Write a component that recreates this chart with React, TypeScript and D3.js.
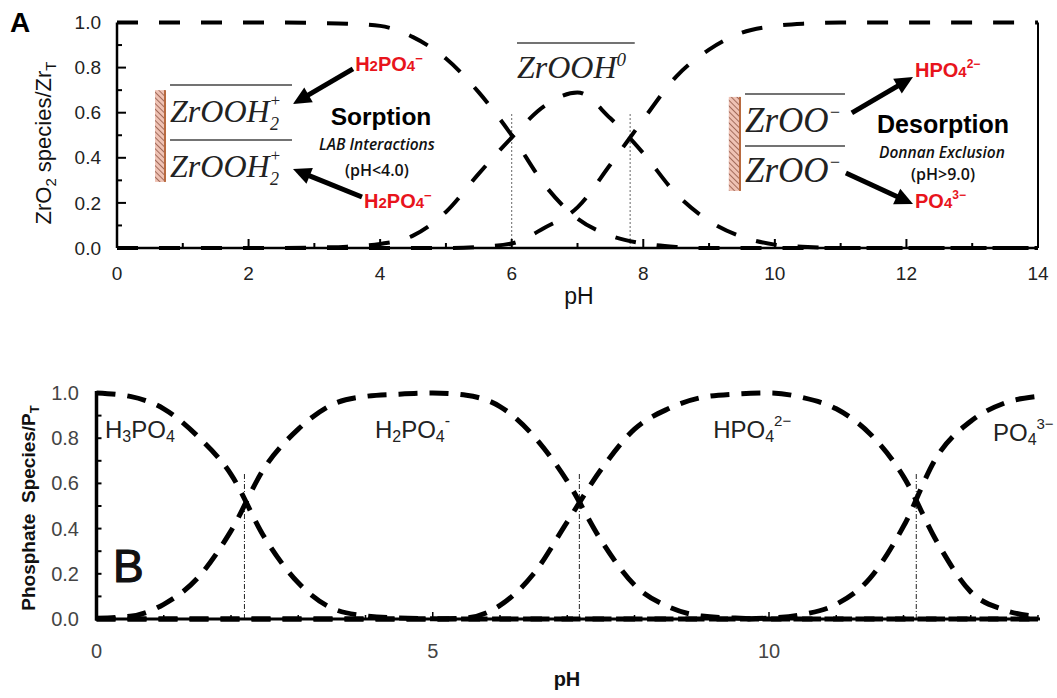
import React from "react";
import * as d3 from "d3";

// pH grid shared by every curve
const PH = [0, 0.5, 1, 1.5, 2, 2.5, 3, 3.5, 4, 4.5, 5, 5.5, 6, 6.5, 7, 7.5, 8, 8.5, 9, 9.5, 10, 10.5, 11, 11.5, 12, 12.5, 13, 13.5, 14];

// Panel A – ZrO2 surface species / Zr_T
const zrOOH2 = [1, 1, 1, 1, 1, 1, 0.998, 0.995, 0.985, 0.935, 0.84, 0.69, 0.5, 0.28, 0.13, 0.055, 0.02, 0.005, 0, 0, 0, 0, 0, 0, 0, 0, 0, 0, 0];
const zrOOH0 = [0, 0, 0, 0, 0, 0, 0.002, 0.006, 0.018, 0.055, 0.16, 0.33, 0.49, 0.63, 0.69, 0.575, 0.42, 0.24, 0.12, 0.05, 0.015, 0.004, 0, 0, 0, 0, 0, 0, 0];
const zrOO = [0, 0, 0, 0, 0, 0, 0, 0, 0, 0, 0, 0.005, 0.02, 0.09, 0.18, 0.37, 0.57, 0.76, 0.88, 0.955, 0.985, 0.996, 1, 1, 1, 1, 1, 1, 1];

// Panel B – phosphate species / P_T
const h3po4 = [1, 0.985, 0.93, 0.81, 0.64, 0.36, 0.16, 0.048, 0.014, 0.004, 0.001, 0, 0, 0, 0, 0, 0, 0, 0, 0, 0, 0, 0, 0, 0, 0, 0, 0, 0];
const h2po4 = [0.003, 0.012, 0.065, 0.18, 0.39, 0.67, 0.84, 0.948, 0.985, 0.995, 1, 0.99, 0.94, 0.81, 0.61, 0.35, 0.15, 0.055, 0.013, 0.004, 0, 0, 0, 0, 0, 0, 0, 0, 0];
const hpo4 = [0, 0, 0, 0, 0, 0, 0, 0, 0, 0, 0, 0.005, 0.06, 0.2, 0.43, 0.66, 0.84, 0.93, 0.98, 0.995, 1, 0.98, 0.93, 0.82, 0.63, 0.34, 0.12, 0.04, 0.01];
const po4 = [0, 0, 0, 0, 0, 0, 0, 0, 0, 0, 0, 0, 0, 0, 0, 0, 0, 0, 0, 0, 0.004, 0.02, 0.065, 0.18, 0.41, 0.72, 0.875, 0.955, 0.985];

const xTicksA = [0, 2, 4, 6, 8, 10, 12, 14];
const xMinorA = [0, 1, 2, 3, 4, 5, 6, 7, 8, 9, 10, 11, 12, 13, 14];
const yTicksA = [0, 0.2, 0.4, 0.6, 0.8, 1];
const yMinorA = [0, 0.1, 0.2, 0.3, 0.4, 0.5, 0.6, 0.7, 0.8, 0.9, 1];
const xTicksB = [0, 5, 10];
const yTicksB = [0, 0.2, 0.4, 0.6, 0.8, 1];

// pKa markers (vertical guide lines)
const crossA = [6, 7.8];
const crossB = [2.2, 7.18, 12.19];

const SANS = "'Liberation Sans', Arial, Helvetica, sans-serif";
const SERIF = "'Liberation Serif', 'Times New Roman', serif";
const NOTE = "'Open Sans', 'Liberation Sans', sans-serif";
const RED = "#e8141c";

function Arrow({ x1, y1, x2, y2 }: { x1: number; y1: number; x2: number; y2: number }) {
  const a = Math.atan2(y2 - y1, x2 - x1);
  const hl = 18, hw = 8.5;
  const bx = x2 - hl * Math.cos(a), by = y2 - hl * Math.sin(a);
  const px = -Math.sin(a) * hw, py = Math.cos(a) * hw;
  return (
    <g>
      <line x1={x1} y1={y1} x2={bx + Math.cos(a) * 2} y2={by + Math.sin(a) * 2} stroke="#000" strokeWidth={5} />
      <polygon points={`${x2},${y2} ${bx + px},${by + py} ${bx - px},${by - py}`} fill="#000" />
    </g>
  );
}

function Bar({ x0, x1, y0, y1 }: { x0: number; x1: number; y0: number; y1: number }) {
  return (
    <g>
      <rect x={x0} y={y1} width={x1 - x0} height={y0 - y1} fill="url(#hatch)" />
      <line x1={x1} x2={x1} y1={y1} y2={y0} stroke="#b86a40" strokeWidth={2} />
    </g>
  );
}

export default function App() {
  const xA = d3.scaleLinear().domain([0, 14]).range([117, 1038]);
  const yA = d3.scaleLinear().domain([0, 1]).range([248, 22.5]);
  const xB = d3.scaleLinear().domain([0, 14]).range([96.5, 1038]);
  const yB = d3.scaleLinear().domain([0, 1]).range([619, 393]);

  const lineA = d3
    .line<number>()
    .x((_, i) => xA(PH[i]))
    .y((d) => yA(d))
    .curve(d3.curveMonotoneX);
  const lineB = d3
    .line<number>()
    .x((_, i) => xB(PH[i]))
    .y((d) => yB(d))
    .curve(d3.curveMonotoneX);

  const seriesA = [zrOOH2, zrOOH0, zrOO];
  const seriesB = [h3po4, h2po4, hpo4, po4];

  return (
    <svg
      width={1057}
      height={698}
      style={{ position: "absolute", left: 0, top: 0, background: "#fff" }}
      fontFamily={SANS}
    >
      <defs>
        <pattern id="hatch" patternUnits="userSpaceOnUse" width={4} height={4} patternTransform="rotate(-45)">
          <rect width={4} height={4} fill="#efc2b4" />
          <line x1={0} y1={0} x2={0} y2={4} stroke="#8e5444" strokeWidth={1.6} />
        </pattern>
      </defs>
      <rect width={1057} height={698} fill="#fff" />

      {/* ---------------- Panel A ---------------- */}
      <text x={10} y={32} fontSize={28} fontWeight="bold">A</text>

      {crossA.map((p) => (
        <line key={p} x1={xA(p)} x2={xA(p)} y1={yA(0)} y2={yA(0.6)} stroke="#666" strokeWidth={1} strokeDasharray="2,2" />
      ))}

      {seriesA.map((s, i) => (
        <path key={i} d={lineA(s) || ""} fill="none" stroke="#000" strokeWidth={4} strokeDasharray="21,21" />
      ))}

      {/* axes */}
      <line x1={xA(0)} x2={xA(0)} y1={yA(1)} y2={yA(0)} stroke="#000" strokeWidth={2.5} />
      <line x1={xA(0)} x2={xA(14)} y1={yA(0)} y2={yA(0)} stroke="#000" strokeWidth={2.5} />
      <line x1={xA(14)} x2={xA(14)} y1={yA(1)} y2={yA(0)} stroke="#000" strokeWidth={2} />
      {xMinorA.map((t) => (
        <line key={"xm" + t} x1={xA(t)} x2={xA(t)} y1={yA(0)} y2={yA(0) - (t % 2 === 0 ? 9 : 5)} stroke="#000" strokeWidth={2} />
      ))}
      {yMinorA.map((t, i) => (
        <line key={"ym" + t} x1={xA(0)} x2={xA(0) + (i % 2 === 0 ? 9 : 5)} y1={yA(t)} y2={yA(t)} stroke="#000" strokeWidth={2} />
      ))}
      {xTicksA.map((t) => (
        <text key={"xt" + t} x={xA(t)} y={280} fontSize={19} textAnchor="middle" fill="#222">{t}</text>
      ))}
      {yTicksA.map((t) => (
        <text key={"yt" + t} x={101} y={yA(t)} dy="0.35em" fontSize={19} textAnchor="end" fill="#222">{t.toFixed(1)}</text>
      ))}
      <text x={579} y={304} fontSize={23} textAnchor="middle" fill="#111">pH</text>
      <text transform="translate(51,143) rotate(-90)" fontSize={22} textAnchor="middle" fill="#111">
        ZrO<tspan fontSize={15} dy={5}>2</tspan>
        <tspan dy={-5}> species/Zr</tspan>
        <tspan fontSize={15} dy={5}>T</tspan>
      </text>

      {/* left annotation: sorption */}
      <Bar x0={xA(0.578)} x1={xA(0.73)} y0={yA(0.293)} y1={yA(0.7)} />
      <line x1={xA(0.806)} x2={xA(2.66)} y1={yA(0.723)} y2={yA(0.723)} stroke="#444" strokeWidth={1.5} />
      <line x1={xA(0.806)} x2={xA(2.66)} y1={yA(0.479)} y2={yA(0.479)} stroke="#444" strokeWidth={1.5} />
      {[0.559, 0.315].map((v) => (
        <text key={v} x={xA(0.806)} y={yA(v)} fontFamily={SERIF} fontStyle="italic" fontSize={32} fill="#222">
          ZrOOH
          <tspan fontSize={17} dy={-16}>+</tspan>
          <tspan fontSize={18} dx={-11} dy={24}>2</tspan>
        </text>
      ))}
      <Arrow x1={xA(3.587)} y1={yA(0.794)} x2={xA(2.675)} y2={yA(0.639)} />
      <Arrow x1={xA(3.724)} y1={yA(0.226)} x2={xA(2.675)} y2={yA(0.35)} />
      <text x={xA(3.62)} y={yA(0.785)} fontSize={20} fontWeight="bold" fill={RED}>
        H<tspan fontSize={15}>2</tspan>PO<tspan fontSize={15}>4</tspan>
        <tspan fontSize={13} dy={-8}>−</tspan>
      </text>
      <text x={xA(3.755)} y={yA(0.177)} fontSize={20} fontWeight="bold" fill={RED}>
        H<tspan fontSize={15}>2</tspan>PO<tspan fontSize={15}>4</tspan>
        <tspan fontSize={13} dy={-8}>−</tspan>
      </text>
      <text x={xA(4.013)} y={yA(0.545)} fontSize={24.5} fontWeight="bold" textAnchor="middle">Sorption</text>
      <text x={xA(3.95)} y={yA(0.435)} fontFamily={NOTE} fontStyle="italic" fontWeight={600} fontSize={15.5} textAnchor="middle" fill="#111">
        LAB Interactions
      </text>
      <text x={xA(3.95)} y={yA(0.319)} fontFamily={NOTE} fontWeight={600} fontSize={16} textAnchor="middle" fill="#111">
        (pH&lt;4.0)
      </text>

      {/* middle label */}
      <line x1={xA(6.08)} x2={xA(7.87)} y1={yA(0.909)} y2={yA(0.909)} stroke="#444" strokeWidth={1.5} />
      <text x={xA(6.08)} y={yA(0.754)} fontFamily={SERIF} fontStyle="italic" fontSize={32} fill="#222">
        ZrOOH<tspan fontSize={19} dy={-12}>0</tspan>
      </text>

      {/* right annotation: desorption */}
      <Bar x0={xA(9.3)} x1={xA(9.47)} y0={yA(0.253)} y1={yA(0.67)} />
      <line x1={xA(9.546)} x2={xA(11.066)} y1={yA(0.683)} y2={yA(0.683)} stroke="#444" strokeWidth={1.5} />
      <line x1={xA(9.546)} x2={xA(11.066)} y1={yA(0.452)} y2={yA(0.452)} stroke="#444" strokeWidth={1.5} />
      {[0.514, 0.293].map((v) => (
        <text key={v} x={xA(9.546)} y={yA(v)} fontFamily={SERIF} fontStyle="italic" fontSize={35} fill="#222">
          ZrOO<tspan fontSize={18} dy={-14}>−</tspan>
        </text>
      ))}
      <Arrow x1={xA(11.17)} y1={yA(0.599)} x2={xA(12.1)} y2={yA(0.758)} />
      <Arrow x1={xA(11.08)} y1={yA(0.333)} x2={xA(12.1)} y2={yA(0.195)} />
      <text x={xA(12.13)} y={yA(0.758)} fontSize={20} fontWeight="bold" fill={RED}>
        HPO<tspan fontSize={15}>4</tspan>
        <tspan fontSize={12} dy={-9}>2−</tspan>
      </text>
      <text x={xA(12.13)} y={yA(0.177)} fontSize={20} fontWeight="bold" fill={RED}>
        PO<tspan fontSize={15}>4</tspan>
        <tspan fontSize={12} dy={-9}>3−</tspan>
      </text>
      <text x={xA(12.556)} y={yA(0.51)} fontSize={25} fontWeight="bold" textAnchor="middle">Desorption</text>
      <text x={xA(12.54)} y={yA(0.399)} fontFamily={NOTE} fontStyle="italic" fontWeight={600} fontSize={15.5} textAnchor="middle" fill="#111">
        Donnan Exclusion
      </text>
      <text x={xA(12.556)} y={yA(0.302)} fontFamily={NOTE} fontWeight={600} fontSize={16} textAnchor="middle" fill="#111">
        (pH&gt;9.0)
      </text>

      {/* ---------------- Panel B ---------------- */}
      {crossB.map((p) => (
        <line key={p} x1={xB(p)} x2={xB(p)} y1={yB(0)} y2={yB(0.65)} stroke="#222" strokeWidth={1} strokeDasharray="5,2,1,2" />
      ))}
      {seriesB.map((s, i) => (
        <path key={i} d={lineB(s) || ""} fill="none" stroke="#000" strokeWidth={5} strokeDasharray="19,12" />
      ))}
      <line x1={xB(0)} x2={xB(0)} y1={yB(0) + 1.5} y2={yB(1) - 2} stroke="#000" strokeWidth={3.5} />
      <line x1={xB(0) - 1.5} x2={xB(14) + 2} y1={yB(0)} y2={yB(0)} stroke="#000" strokeWidth={3} />
      {yMinorA.map((t) => (
        <line key={"bym" + t} x1={xB(0)} x2={xB(0) + 5} y1={yB(t)} y2={yB(t)} stroke="#000" strokeWidth={2} />
      ))}
      {xMinorA.map((t) => (
        <line key={"bxm" + t} x1={xB(t)} x2={xB(t)} y1={yB(0)} y2={yB(0) - (t % 5 === 0 ? 7 : 4)} stroke="#000" strokeWidth={1.5} />
      ))}
      {yTicksB.map((t) => (
        <text key={"byt" + t} x={79} y={yB(t)} dy="0.35em" fontSize={20} textAnchor="end" fill="#444">{t.toFixed(1)}</text>
      ))}
      {xTicksB.map((t) => (
        <text key={"bxt" + t} x={xB(t)} y={658} fontSize={20} textAnchor="middle" fill="#444">{t}</text>
      ))}
      <text x={567} y={686} fontSize={20} fontWeight="bold" textAnchor="middle" fill="#111">pH</text>
      <text transform="translate(35,508) rotate(-90)" fontSize={19} fontWeight="bold" textAnchor="middle" fill="#111">
        Phosphate{"\u00a0 "}Species/P<tspan fontSize={13} dy={4}>T</tspan>
      </text>

      <text x={xB(0.245)} y={yB(0.164)} fontSize={46} fill="#111" stroke="#111" strokeWidth={1.2}>B</text>
      <text x={xB(0.126)} y={yB(0.8)} fontSize={24} fill="#222">
        H<tspan fontSize={16} dy={4}>3</tspan>
        <tspan dy={-4}>PO</tspan>
        <tspan fontSize={16} dy={4}>4</tspan>
      </text>
      <text x={xB(4.14)} y={yB(0.8)} fontSize={24} fill="#222">
        H<tspan fontSize={16} dy={4}>2</tspan>
        <tspan dy={-4}>PO</tspan>
        <tspan fontSize={16} dy={4}>4</tspan>
        <tspan fontSize={16} dy={-16}>-</tspan>
      </text>
      <text x={xB(9.17)} y={yB(0.8)} fontSize={24} fill="#222">
        HPO<tspan fontSize={16} dy={4}>4</tspan>
        <tspan fontSize={15} dy={-16}>2−</tspan>
      </text>
      <text x={xB(13.33)} y={yB(0.788)} fontSize={24} fill="#222">
        PO<tspan fontSize={16} dy={4}>4</tspan>
        <tspan fontSize={15} dy={-16}>3−</tspan>
      </text>
    </svg>
  );
}
